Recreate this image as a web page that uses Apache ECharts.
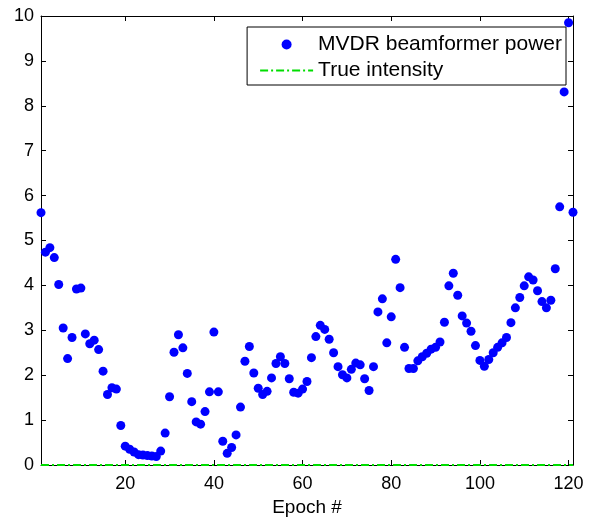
<!DOCTYPE html>
<html>
<head>
<meta charset="utf-8">
<script src="https://cdn.jsdelivr.net/npm/echarts@6/dist/echarts.min.js"></script>
<style>
  html, body { margin: 0; padding: 0; background: #fff; }
  #chart { width: 601px; height: 518px; }
</style>
</head>
<body>
<div id="chart"></div>
<script>
// MVDR beamformer power per epoch (epoch 1..121)
var power = [
  5.62, 4.74, 4.84, 4.62, 4.02, 3.05, 2.37, 2.84, 3.92, 3.94,
  2.92, 2.70, 2.78, 2.57, 2.09, 1.57, 1.72, 1.69, 0.88, 0.42,
  0.35, 0.29, 0.23, 0.22, 0.21, 0.20, 0.19, 0.31, 0.71, 1.52,
  2.51, 2.90, 2.61, 2.04, 1.41, 0.96, 0.91, 1.19, 1.63, 2.96,
  1.63, 0.53, 0.26, 0.39, 0.67, 1.29, 2.31, 2.64, 2.05, 1.71,
  1.57, 1.64, 1.94, 2.26, 2.41, 2.26, 1.92, 1.62, 1.60, 1.69,
  1.86, 2.39, 2.86, 3.11, 3.02, 2.80, 2.50, 2.19, 2.01, 1.94,
  2.13, 2.27, 2.23, 1.92, 1.66, 2.19, 3.41, 3.70, 2.72, 3.30,
  4.58, 3.95, 2.62, 2.15, 2.15, 2.32, 2.41, 2.49, 2.58, 2.62,
  2.74, 3.18, 3.99, 4.27, 3.78, 3.32, 3.16, 2.98, 2.66, 2.33,
  2.20, 2.35, 2.50, 2.62, 2.72, 2.84, 3.17, 3.50, 3.73, 3.99,
  4.19, 4.12, 3.88, 3.64, 3.50, 3.67, 4.37, 5.75, 8.31, 9.85,
  5.63
];
// true intensity (flat line)
var trueEpochs = [1, 121];
var trueIntensity = [0, 0];
// tick labels
var xTicks = [20, 40, 60, 80, 100, 120];
var yTicks = [0, 1, 2, 3, 4, 5, 6, 7, 8, 9, 10];

var chart = echarts.init(document.getElementById('chart'));
var font = 'Liberation Sans, Arial, sans-serif';
var green = '#00dd00';

var powerData = power.map(function (v, i) { return [i + 1, v]; });
var trueData = trueEpochs.map(function (e, i) { return [e, trueIntensity[i]]; });

// 图例里的点划线图标
var dashDotIcon = 'path://M0,0h8v2h-8zM11,0h2v2h-2zM16,0h8v2h-8zM27,0h2v2h-2zM32,0h8v2h-8zM43,0h2v2h-2zM48,0h5v2h-5z';

// 盒子样式的坐标轴（上下左右都有刻度）
function xAxisOpt(pos, showLabel) {
  return {
    type: 'value',
    position: pos,
    min: 1,
    max: 121,
    name: showLabel ? 'Epoch #' : '',
    nameLocation: 'middle',
    nameGap: 32,
    nameTextStyle: { color: '#000', fontSize: 19, fontFamily: font },
    axisLine: { show: true, onZero: false, lineStyle: { color: '#000', width: 1 } },
    axisTick: { show: true, inside: true, length: 5, customValues: xTicks, lineStyle: { color: '#000' } },
    axisLabel: { show: showLabel, customValues: xTicks, color: '#000', fontSize: 18, fontFamily: font, margin: 10 },
    splitLine: { show: false }
  };
}
function yAxisOpt(pos, showLabel) {
  return {
    type: 'value',
    position: pos,
    min: 0,
    max: 10,
    interval: 1,
    axisLine: { show: true, onZero: false, lineStyle: { color: '#000', width: 1 } },
    axisTick: { show: true, inside: true, length: 5, customValues: yTicks, lineStyle: { color: '#000' } },
    axisLabel: { show: showLabel, customValues: yTicks, color: '#000', fontSize: 18, fontFamily: font, margin: 7 },
    splitLine: { show: false }
  };
}

chart.setOption({
  animation: false,
  textStyle: { fontFamily: font },
  grid: { left: 41, right: 28, top: 16, bottom: 53, containLabel: false, outerBoundsMode: 'none' },
  xAxis: [xAxisOpt('bottom', true), xAxisOpt('top', false)],
  yAxis: [yAxisOpt('left', true), yAxisOpt('right', false)],
  legend: {
    orient: 'vertical',
    right: 35,
    top: 27,
    backgroundColor: '#fff',
    borderColor: '#000',
    borderWidth: 1,
    borderRadius: 0,
    padding: [7, 4, 4, 13],
    itemGap: 5,
    itemWidth: 53,
    itemHeight: 10,
    symbolKeepAspect: true,
    textStyle: { color: '#000', fontSize: 21, fontFamily: font },
    data: [
      { name: 'MVDR beamformer power', icon: 'circle', itemStyle: { color: '#0000ff' } },
      { name: 'True intensity', icon: dashDotIcon, itemStyle: { color: green } }
    ]
  },
  series: [
    {
      name: 'MVDR beamformer power',
      type: 'scatter',
      symbol: 'circle',
      symbolSize: 9,
      itemStyle: { color: '#0000ff', opacity: 1 },
      data: powerData,
      z: 3
    },
    {
      name: 'True intensity',
      type: 'line',
      symbol: 'none',
      lineStyle: { color: green, width: 2, type: [8, 3, 2, 3] },
      itemStyle: { color: green },
      data: trueData,
      z: 4
    }
  ]
});
</script>
</body>
</html>
